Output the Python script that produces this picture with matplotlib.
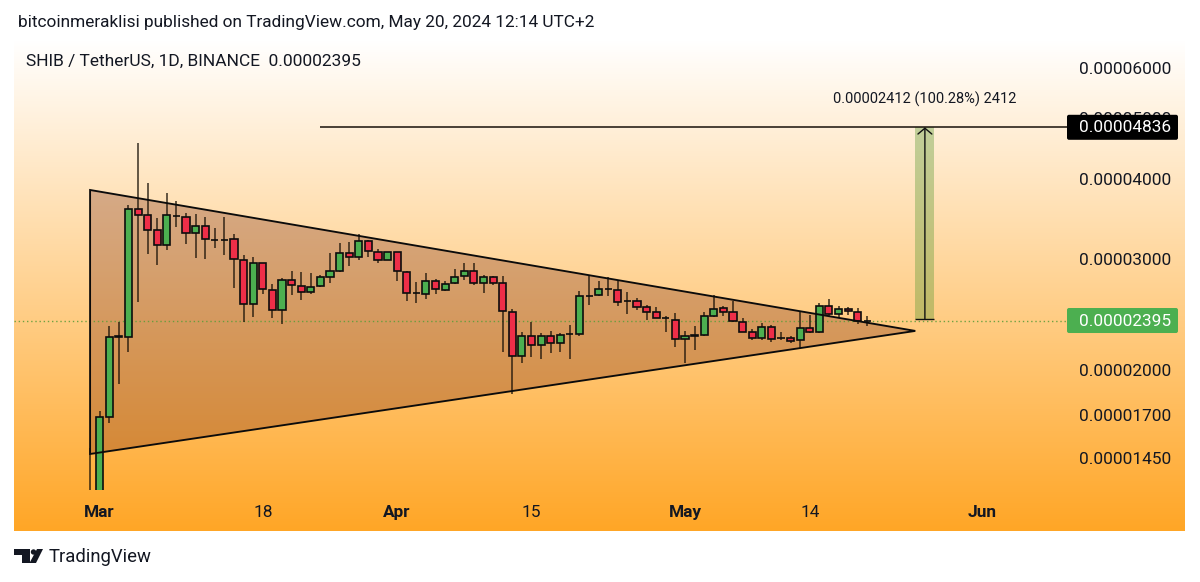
import numpy as np
import matplotlib
matplotlib.use("Agg")
import matplotlib.pyplot as plt
from matplotlib.patches import FancyBboxPatch, Polygon, Circle
from matplotlib.transforms import IdentityTransform
from matplotlib.ticker import NullLocator

plt.rcParams['font.family'] = ['Roboto', 'DejaVu Sans']

UNIT = 1e-8
# Daily candles, Feb 29 (day -1) to May 20 (day 80), prices in units of 1e-8
opens = [1200,1250,1688,2258,2256,3593,3512,3327,3149,3504,3491,3290,3379,3210,3210,3218,2986,2544,2950,2680,2492,
         2773,2716,2656,2713,2803,2871,3058,3015,3195,3073,2986,3070,2858,2643,2640,2763,2677,2742,2813,2868,
         2749,2803,2742,2473,2108,2267,2189,2262,2205,2282,2282,2622,2625,2690,2677,2575,2569,2519,2474,2417,
         2402,2238,2262,2275,2436,2504,2468,2385,2295,2250,2342,2248,2245,2232,2334,2298,2522,2455,2498,2471,2389]
closes = [1250,1686,2256,2260,3589,3520,3327,3149,3512,3500,3290,3379,3222,3210,3210,2993,2544,2950,2684,2492,2773,
          2724,2656,2706,2803,2868,3058,3022,3195,3081,2986,3070,2868,2643,2643,2763,2684,2738,2809,2868,2749,
          2803,2749,2477,2108,2267,2192,2265,2205,2271,2282,2616,2622,2684,2690,2565,2575,2519,2474,2420,2417,
          2240,2262,2275,2436,2500,2471,2394,2298,2250,2342,2238,2248,2226,2331,2298,2522,2455,2498,2477,2389,2395]
highs = [1507,1725,2348,2385,3646,4568,3949,3478,3805,3699,3537,3528,3487,3351,3487,3278,3038,3019,2950,2736,2796,
         2868,2858,2844,2826,3065,3175,3184,3281,3210,3103,3070,3070,2868,2753,2851,2785,2770,2892,2957,2957,
         2823,2815,2816,2495,2296,2385,2287,2303,2292,2354,2670,2818,2770,2809,2770,2656,2600,2534,2516,2434,
         2465,2308,2348,2472,2624,2525,2575,2420,2325,2376,2356,2296,2265,2471,2444,2556,2588,2528,2513,2504,2434]
lows = [1100,1200,1652,1901,2139,2563,3051,2935,3096,3363,3168,3010,3000,3115,3042,2700,2380,2428,2640,2414,2368,
        2625,2584,2633,2710,2749,2855,2920,2986,3015,2957,2986,2770,2568,2550,2590,2633,2670,2735,2777,2722,
        2643,2722,2139,1834,2050,2100,2080,2131,2139,2085,2267,2538,2615,2619,2526,2450,2492,2400,2417,2300,
        2178,2055,2152,2267,2428,2434,2380,2295,2232,2232,2215,2232,2205,2165,2286,2290,2423,2420,2441,2363,2348]
days = list(range(-1, 80 + 1))

# Triangle drawing (day, price)
tri_days = [-1, 85, -1]
tri_prices = [3850, 2306, 1474]

# Target measure
target_price = 4836
base_price = 2405
last_price = 2395
measure_days = [85, 87]
target_line_start = 23
measure_label = "0.00002412 (100.28%) 2412"

ytick_values = [6000, 5000, 4000, 3000, 2000, 1700, 1450]
xtick_days = [0, 17, 31, 45, 61, 74, 92]
xtick_labels = ["Mar", "18", "Apr", "15", "May", "14", "Jun"]
month_labels = {"Mar", "Apr", "May", "Jun"}

W, H = 1200, 582
INK = '#131722'
fig = plt.figure(figsize=(W / 100, H / 100), dpi=100, facecolor='white')

def box(x0, y0, x1, y1):
    return [x0 / W, 1 - y1 / H, (x1 - x0) / W, (y1 - y0) / H]

# Gradient pane
bg = fig.add_axes(box(14, 40, 1185, 531), zorder=-1)
t = np.linspace(0, 1, 491)[:, None, None]
c0 = np.array([255, 255, 255]) / 255
c1 = np.array([255, 166, 38]) / 255
bg.imshow(c0 + (c1 - c0) * t, aspect='auto')
bg.axis('off')

ax = fig.add_axes(box(14, 40, 1067, 490), zorder=1)
ax.patch.set_alpha(0)
ax.set_yscale('log')
ax.set_xlim(-8.93, 100.81)
ax.set_ylim(1293 * UNIT, 6643 * UNIT)
for s in ax.spines.values():
    s.set_visible(False)

o = np.array(opens) * UNIT
c = np.array(closes) * UNIT
h = np.array(highs) * UNIT
l = np.array(lows) * UNIT
d = np.array(days)
up = c >= o
colors = np.where(up, '#4CAF50', '#EE2E48')

# Triangle
ax.add_patch(Polygon(np.column_stack([tri_days, np.array(tri_prices) * UNIT]), closed=True,
                     facecolor='#7a2a10', alpha=0.31, edgecolor='none', zorder=2))
ax.add_patch(Polygon(np.column_stack([tri_days, np.array(tri_prices) * UNIT]), closed=True,
                     facecolor='none', edgecolor='#0b0b0b', lw=1.35, zorder=5, joinstyle='miter'))

# Last price dotted line
ax.axhline(last_price * UNIT, color='#5f9e3a', lw=1.0, ls=(0, (1, 2)), alpha=0.9, zorder=2.5)

# Candles
ax.vlines(d, l, h, color='#1a1208', lw=1.2, alpha=0.8, zorder=3)
ax.bar(d, np.abs(c - o), bottom=np.minimum(o, c), width=0.74, color=colors,
       edgecolor='#0d0d0d', linewidth=1.2, zorder=4)

# Target line and measure box
ax.hlines(target_price * UNIT, target_line_start, ax.get_xlim()[1], color='#171009', lw=1.1, zorder=5)
ax.fill_between(measure_days, base_price * UNIT, target_price * UNIT, color='#5c9a34', alpha=0.38,
                lw=0, zorder=2)
ax.hlines(base_price * UNIT, measure_days[0], measure_days[1], color='#111111', lw=1.0, zorder=5)
ax.annotate('', xy=(np.mean(measure_days), target_price * UNIT),
            xytext=(np.mean(measure_days), base_price * UNIT),
            arrowprops=dict(arrowstyle='->,head_length=0.42,head_width=0.5', lw=1.0, color='#111111',
                            shrinkA=0, shrinkB=0), zorder=6)
ax.text(np.mean(measure_days), 5360 * UNIT, measure_label, ha='center', va='center',
        fontsize=10.5, color=INK, zorder=6)

# Axes ticks
ax.yaxis.tick_right()
ax.yaxis.set_minor_locator(NullLocator())
ax.set_yticks(np.array(ytick_values) * UNIT)
ax.set_yticklabels([f"{v * UNIT:.8f}" for v in ytick_values], fontsize=12.4, color=INK)
ax.tick_params(axis='y', length=0, pad=8.6, which='both')
for lab in ax.get_yticklabels():
    lab.set_ha('left')
ax.set_xticks(xtick_days)
ax.set_xticklabels(xtick_labels, fontsize=12.4, color=INK)
ax.tick_params(axis='x', length=0, pad=10.5)
for lab in ax.get_xticklabels():
    if lab.get_text() in month_labels:
        lab.set_fontweight('bold')

# Price labels on top of axis
def price_label(value, face):
    py = ax.transData.transform((0, value * UNIT))[1]
    fig.add_artist(FancyBboxPatch((1068, py - 11.5), 109, 23, boxstyle='round,pad=1,rounding_size=2',
                                  facecolor=face, edgecolor='none', transform=IdentityTransform(), zorder=5))
    fig.text(1079 / W, (py - 0.5) / H, f"{value * UNIT:.8f}", color='white', fontsize=12.4,
             ha='left', va='center', zorder=6)

price_label(target_price, '#000000')
price_label(last_price, '#4CAF50')

# Header text
fig.text(18 / W, 1 - 22 / H, "bitcoinmeraklisi published on TradingView.com, May 20, 2024 12:14 UTC+2",
         fontsize=12.4, color=INK, va='center', ha='left')
fig.text(26 / W, 1 - 61 / H, "SHIB / TetherUS, 1D, BINANCE  0.00002395",
         fontsize=12.5, color=INK, va='center', ha='left')

# TradingView mark
def px(pts):
    return [(x, H - y) for x, y in pts]
logo = {'facecolor': INK, 'edgecolor': 'none', 'transform': IdentityTransform(), 'zorder': 5}
fig.add_artist(Polygon(px([(14, 549), (30, 549), (30, 563), (22, 563), (22, 555), (14, 555)]), closed=True, **logo))
fig.add_artist(Circle((33.5, H - 552), 2.7, **logo))
fig.add_artist(Polygon(px([(37, 549), (43, 549), (36, 563), (29.5, 563)]), closed=True, **logo))
fig.text(48.5 / W, 1 - 557.5 / H, "TradingView", fontsize=13.3, color=INK, va='center', ha='left')

fig.savefig('out.png', dpi=100, facecolor='white')
